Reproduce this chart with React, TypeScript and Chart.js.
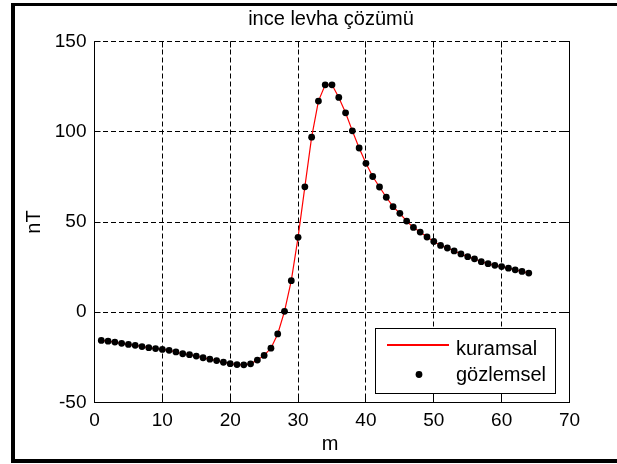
import React, { useEffect, useRef } from 'react';
import { Chart, registerables } from 'chart.js';

Chart.register(...registerables);

// ---- data ----
const mValues = [
  1, 2, 3, 4, 5, 6, 7, 8, 9, 10, 11, 12, 13, 14, 15, 16, 17, 18, 19, 20,
  21, 22, 23, 24, 25, 26, 27, 28, 29, 30, 31, 32, 33, 34, 35, 36, 37, 38, 39, 40,
  41, 42, 43, 44, 45, 46, 47, 48, 49, 50, 51, 52, 53, 54, 55, 56, 57, 58, 59, 60,
  61, 62, 63, 64,
];

const kuramsal = [
  -15.6, -16.0, -16.5, -17.2, -17.8, -18.3, -19.0, -19.6, -20.1, -20.6,
  -21.1, -22.0, -23.0, -23.5, -24.3, -25.2, -26.0, -26.8, -27.7, -28.5,
  -29.0, -29.1, -28.6, -26.5, -23.9, -19.9, -12.0, 0.5, 17.5, 41.5,
  69.5, 97.0, 117.0, 126.0, 126.0, 119.0, 110.5, 100.5, 91.0, 82.5,
  75.2, 69.4, 63.7, 58.5, 54.8, 50.5, 47.0, 44.4, 41.7, 39.2,
  37.0, 35.6, 34.0, 32.3, 30.8, 29.6, 28.0, 26.9, 26.0, 25.3,
  24.4, 23.5, 22.6, 21.7,
];

const gozlemsel = [
  -15.6, -16.0, -16.5, -17.2, -17.8, -18.3, -19.0, -19.6, -20.1, -20.6,
  -21.1, -22.0, -23.0, -23.5, -24.3, -25.2, -26.0, -26.8, -27.7, -28.5,
  -29.0, -29.1, -28.6, -26.5, -23.9, -19.9, -12.0, 0.5, 17.5, 41.5,
  69.5, 97.0, 117.0, 126.0, 126.0, 119.0, 110.5, 100.5, 91.0, 82.5,
  75.2, 69.4, 63.7, 58.5, 54.8, 50.5, 47.0, 44.4, 41.7, 39.2,
  37.0, 35.6, 34.0, 32.3, 30.8, 29.6, 28.0, 26.9, 26.0, 25.3,
  24.4, 23.5, 22.6, 21.7,
];

const xTicks = [0, 10, 20, 30, 40, 50, 60, 70];
const yTicks = [-50, 0, 50, 100, 150];

const titleText = 'ince levha çözümü';
const xLabel = 'm';
const yLabel = 'nT';
const seriesNames = ['kuramsal', 'gözlemsel'];

const FONT = '"Liberation Sans", Arial, Helvetica, sans-serif';
const RED = '#ff0000';

const align = (p: number) => Math.round(p - 0.5) + 0.5;

const decorPlugin = {
  id: 'decor',
  beforeDraw(chart: any) {
    const ctx = chart.ctx;
    ctx.save();
    ctx.fillStyle = '#fff';
    ctx.fillRect(0, 0, chart.width, chart.height);
    ctx.restore();
  },
  afterDraw(chart: any) {
    const ctx = chart.ctx as CanvasRenderingContext2D;
    const a = chart.chartArea;
    const xs = chart.scales.x;
    const ys = chart.scales.y;
    const L = align(a.left);
    const R = align(a.right);
    const T = align(a.top);
    const B = align(a.bottom);
    ctx.save();
    ctx.setLineDash([]);
    ctx.strokeStyle = '#000';
    ctx.lineWidth = 1;
    // axes box (left, bottom, right solid)
    ctx.beginPath();
    ctx.moveTo(L, T);
    ctx.lineTo(L, B);
    ctx.lineTo(R, B);
    ctx.lineTo(R, T);
    ctx.stroke();
    // inward ticks
    const tl = 6;
    ctx.beginPath();
    xTicks.forEach((v) => {
      const p = align(xs.getPixelForValue(v));
      ctx.moveTo(p, B);
      ctx.lineTo(p, B - tl);
      ctx.moveTo(p, T);
      ctx.lineTo(p, T + tl);
    });
    yTicks.forEach((v) => {
      const p = align(ys.getPixelForValue(v));
      ctx.moveTo(L, p);
      ctx.lineTo(L + tl, p);
      ctx.moveTo(R, p);
      ctx.lineTo(R - tl, p);
    });
    ctx.stroke();
    ctx.restore();

    // legend box
    ctx.save();
    ctx.setLineDash([]);
    ctx.fillStyle = '#fff';
    ctx.fillRect(375.5, 328.5, 180, 65);
    ctx.lineWidth = 1;
    ctx.strokeStyle = '#000';
    ctx.strokeRect(375.5, 328.5, 180, 65);
    ctx.restore();

    // legend line sample
    ctx.save();
    ctx.setLineDash([]);
    ctx.fillStyle = RED;
    ctx.fillRect(387, 344, 62, 2);
    ctx.restore();

    // legend point sample + texts
    ctx.save();
    ctx.fillStyle = '#000';
    ctx.beginPath();
    ctx.arc(419, 374.5, 3.4, 0, Math.PI * 2);
    ctx.fill();
    ctx.font = `20px ${FONT}`;
    ctx.textAlign = 'left';
    ctx.textBaseline = 'alphabetic';
    ctx.fillText(seriesNames[0], 456, 355);
    ctx.fillText(seriesNames[1], 456, 381);

    // title and axis titles
    ctx.textAlign = 'center';
    ctx.fillText(titleText, 331, 25);
    ctx.fillText(xLabel, 330, 450);
    ctx.translate(40, 222);
    ctx.rotate(-Math.PI / 2);
    ctx.fillText(yLabel, 0, 0);
    ctx.restore();

    // outer figure frame
    ctx.save();
    ctx.fillStyle = '#000';
    ctx.fillRect(11, 3, 620, 3);
    ctx.fillRect(11, 3, 4, 460);
    ctx.fillRect(11, 459, 620, 4);
    ctx.restore();
  },
};

export default function App() {
  const ref = useRef<HTMLCanvasElement | null>(null);

  useEffect(() => {
    if (!ref.current) return;
    const lineData = mValues.map((m, i) => ({ x: m, y: kuramsal[i] }));
    const pointData = mValues.map((m, i) => ({ x: m, y: gozlemsel[i] }));
    const chart = new Chart(ref.current, {
      type: 'line',
      data: {
        datasets: [
          {
            label: seriesNames[1],
            data: pointData,
            showLine: false,
            pointRadius: 3.4,
            pointBorderWidth: 0,
            pointBackgroundColor: '#000',
            pointBorderColor: '#000',
            order: 0,
          },
          {
            label: seriesNames[0],
            data: lineData,
            borderColor: RED,
            borderWidth: 1.2,
            pointRadius: 0,
            tension: 0,
            fill: false,
            order: 1,
          },
        ],
      },
      options: {
        responsive: false,
        animation: false,
        devicePixelRatio: 1,
        layout: { padding: { top: 41.5, right: 47.5, left: 0, bottom: 0 } },
        plugins: {
          legend: { display: false },
          title: { display: false },
          tooltip: { enabled: false },
        },
        scales: {
          x: {
            type: 'linear',
            min: 0,
            max: 70,
            afterBuildTicks: (s: any) => {
              s.ticks = xTicks.map((v) => ({ value: v }));
            },
            afterFit: (s: any) => {
              s.height = 61.5;
            },
            grid: { color: '#000', lineWidth: 1, drawTicks: false },
            border: { display: false, dash: [5, 3] },
            ticks: {
              color: '#000',
              font: { family: FONT, size: 19 },
              padding: 7,
              maxRotation: 0,
              autoSkip: false,
            },
          },
          y: {
            type: 'linear',
            min: -50,
            max: 150,
            afterBuildTicks: (s: any) => {
              s.ticks = yTicks.map((v) => ({ value: v }));
            },
            afterFit: (s: any) => {
              s.width = 94.5;
            },
            grid: { color: '#000', lineWidth: 1, drawTicks: false },
            border: { display: false, dash: [5, 3] },
            ticks: {
              color: '#000',
              font: { family: FONT, size: 19 },
              padding: 8,
              autoSkip: false,
            },
          },
        },
      },
      plugins: [decorPlugin],
    } as any);
    return () => chart.destroy();
  }, []);

  return (
    <div
      style={{
        position: 'fixed',
        left: 0,
        top: 0,
        width: 617,
        height: 464,
        overflow: 'hidden',
        background: '#fff',
      }}
    >
      <canvas ref={ref} width={617} height={464} style={{ display: 'block' }} />
    </div>
  );
}
